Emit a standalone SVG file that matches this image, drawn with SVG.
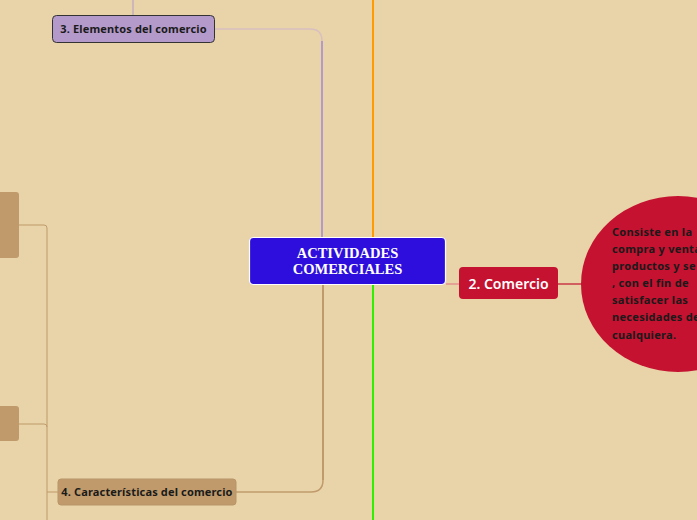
<svg xmlns="http://www.w3.org/2000/svg" width="697" height="520" viewBox="0 0 697 520">
<style>
.t{font-family:"Noto Sans","Open Sans",sans-serif;font-weight:700;}
.sub{font-size:11px;fill:#1a1a1a;letter-spacing:0.15px;}
</style>
<rect width="697" height="520" fill="#E8D4A8"/>
<g id="connectors" fill="none">
<line x1="133" y1="0" x2="133" y2="15" stroke="#B49ACB" stroke-width="1"/>
<path d="M214 29 H310 Q322 29 322 41 V237" stroke="#D9BFC0" stroke-width="1.5"/>
<path d="M322 41 V237" stroke="#B49ACB" stroke-width="2"/>
<line x1="373" y1="0" x2="373" y2="237" stroke="#FF9B00" stroke-width="2"/>
<line x1="373" y1="284" x2="373" y2="520" stroke="#2EF000" stroke-width="2"/>
<path d="M323 284 V480 Q323 492 311 492 H236" stroke="#C09A6B" stroke-width="1.5"/>
<path d="M323 284 V480" stroke="#C09A6B" stroke-width="2"/>
<line x1="446" y1="284" x2="459" y2="284" stroke="#E07080" stroke-width="1"/>
<line x1="558" y1="284" x2="582" y2="284" stroke="#C41230" stroke-width="1.2"/>
<path d="M19 225 H44 Q47 225 47 228 V520" stroke="#C09A6B" stroke-width="1"/>
<path d="M19 424 H44 Q47 424 47 427" stroke="#C09A6B" stroke-width="1"/>
<line x1="47" y1="492" x2="58" y2="492" stroke="#C09A6B" stroke-width="1"/>
</g>
<g id="node-elementos">
<rect x="52.5" y="15.5" width="162" height="27" rx="4" fill="#B49ACB" stroke="#333" stroke-width="1"/>
<text class="t sub" x="133.5" y="33" text-anchor="middle">3. Elementos del comercio</text>
</g>
<g id="node-central">
<rect x="249.5" y="237.5" width="196" height="47" rx="4" fill="#2E0EDC" stroke="#FFFFFF" stroke-width="1.2"/>
<text x="347.5" y="258" text-anchor="middle" font-family="Liberation Serif, serif" font-weight="700" font-size="14.5" fill="#FFFFFF">ACTIVIDADES</text>
<text x="347.5" y="274" text-anchor="middle" font-family="Liberation Serif, serif" font-weight="700" font-size="14.5" fill="#FFFFFF">COMERCIALES</text>
</g>
<g id="node-comercio">
<rect x="459" y="267" width="99" height="32" rx="4" fill="#C41230"/>
<text x="508.5" y="289" text-anchor="middle" font-family="Noto Sans, sans-serif" font-weight="600" font-size="14" fill="#FFFFFF">2. Comercio</text>
</g>
<g id="node-definicion">
<ellipse cx="678" cy="284" rx="97" ry="88" fill="#C41230"/>
<text class="t" font-size="11" fill="#1a1a1a" letter-spacing="0.3">
<tspan x="612" y="236">Consiste en la</tspan>
<tspan x="612" y="253">compra y venta</tspan>
<tspan x="612" y="270">productos y se</tspan>
<tspan x="612" y="287">, con el fin de</tspan>
<tspan x="612" y="304">satisfacer las</tspan>
<tspan x="612" y="321">necesidades de</tspan>
<tspan x="612" y="339">cualquiera.</tspan>
</text>
</g>
<g id="node-left-1">
<rect x="-5" y="192" width="24" height="66" rx="3" fill="#C09A6B"/>
</g>
<g id="node-left-2">
<rect x="-5" y="406" width="24" height="35" rx="3" fill="#C09A6B"/>
</g>
<g id="node-caracteristicas">
<rect x="58" y="479" width="178" height="26" rx="3" fill="#C09A6B" stroke="#B8956A" stroke-width="1"/>
<text class="t sub" x="147" y="496" text-anchor="middle">4. Características del comercio</text>
</g>
</svg>
